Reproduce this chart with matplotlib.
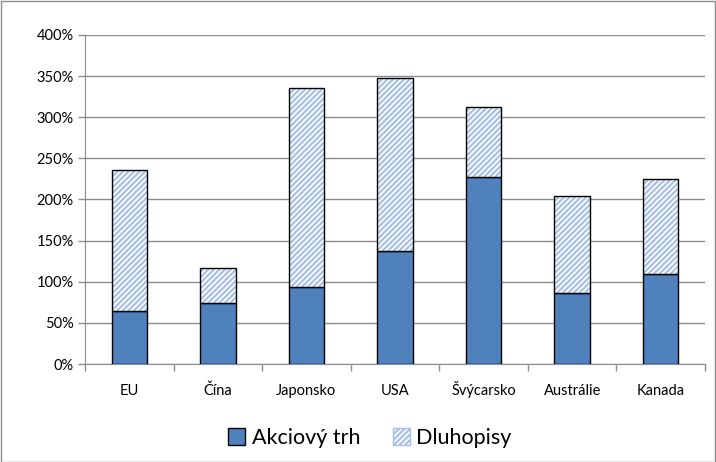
import matplotlib
matplotlib.use("Agg")
import matplotlib.pyplot as plt
from matplotlib.patches import Rectangle, Patch
import numpy as np

categories = ["EU", "Čína", "Japonsko", "USA", "Švýcarsko", "Austrálie", "Kanada"]
stock = [64, 74, 94, 137, 227, 86, 109]
total = [236, 117, 335, 348, 313, 204, 225]
bonds = [t - s for t, s in zip(total, stock)]
yticks = [0, 50, 100, 150, 200, 250, 300, 350, 400]

plt.rcParams['font.family'] = ['Lato', 'DejaVu Sans']
plt.rcParams['hatch.linewidth'] = 1.6

fig = plt.figure(figsize=(7.16, 4.62), dpi=100)
ax = fig.add_axes([85/716, 98/462, 620/716, 329/462])

x = np.arange(len(categories))
w = 0.4
blue = "#4F81BD"
hatchblue = "#A7C0E4"

ax.bar(x, stock, width=w, color=blue, edgecolor="black", linewidth=1.0, zorder=3)
ax.bar(x, bonds, bottom=stock, width=w, color="white", edgecolor=hatchblue,
       hatch="//////", linewidth=0, zorder=3)
ax.bar(x, bonds, bottom=stock, width=w, fill=False, edgecolor="black", linewidth=1.0, zorder=4)

ax.set_xlim(-0.5, len(categories) - 0.5)
ax.set_ylim(0, 400)
ax.set_yticks(yticks)
ax.set_yticklabels([f"{v}%" for v in yticks], fontsize=10.5)
ax.yaxis.grid(True, color="#8C8C8C", linewidth=1.0, zorder=0)
ax.set_axisbelow(True)

ax.set_xticks(x)
ax.set_xticklabels(categories, fontsize=10.5)
for lbl in ax.get_xticklabels():
    lbl.set_va('baseline')
ax.tick_params(axis='x', length=0, pad=22)
ax.set_xticks(np.arange(-0.5, len(categories), 1), minor=True)
ax.tick_params(axis='x', which='minor', length=5, color="#8C8C8C", width=1)
ax.tick_params(axis='y', length=5, color="#8C8C8C", width=1, pad=3)

for s in ["top", "right"]:
    ax.spines[s].set_visible(False)
ax.spines["left"].set_color("#8C8C8C")
ax.spines["bottom"].set_color("#8C8C8C")

handles = [Patch(facecolor=blue, edgecolor="black", linewidth=1.0),
           Patch(facecolor="white", edgecolor=hatchblue, hatch="//////", linewidth=1.0)]
leg = fig.legend(handles, ["Akciový trh", "Dluhopisy"], loc="center",
                 bbox_to_anchor=(370/716, 1 - 438/462), ncol=2, frameon=False,
                 fontsize=15.5, handlelength=0.8, handleheight=0.8,
                 handletextpad=0.3, columnspacing=1.5)

fig.patches.append(Rectangle((0.5/716, 0.5/462), 1 - 1.5/716, 1 - 1.5/462,
                             transform=fig.transFigure, fill=False,
                             edgecolor="#8C8C8C", linewidth=1.0))

fig.savefig("out.png", dpi=100)
